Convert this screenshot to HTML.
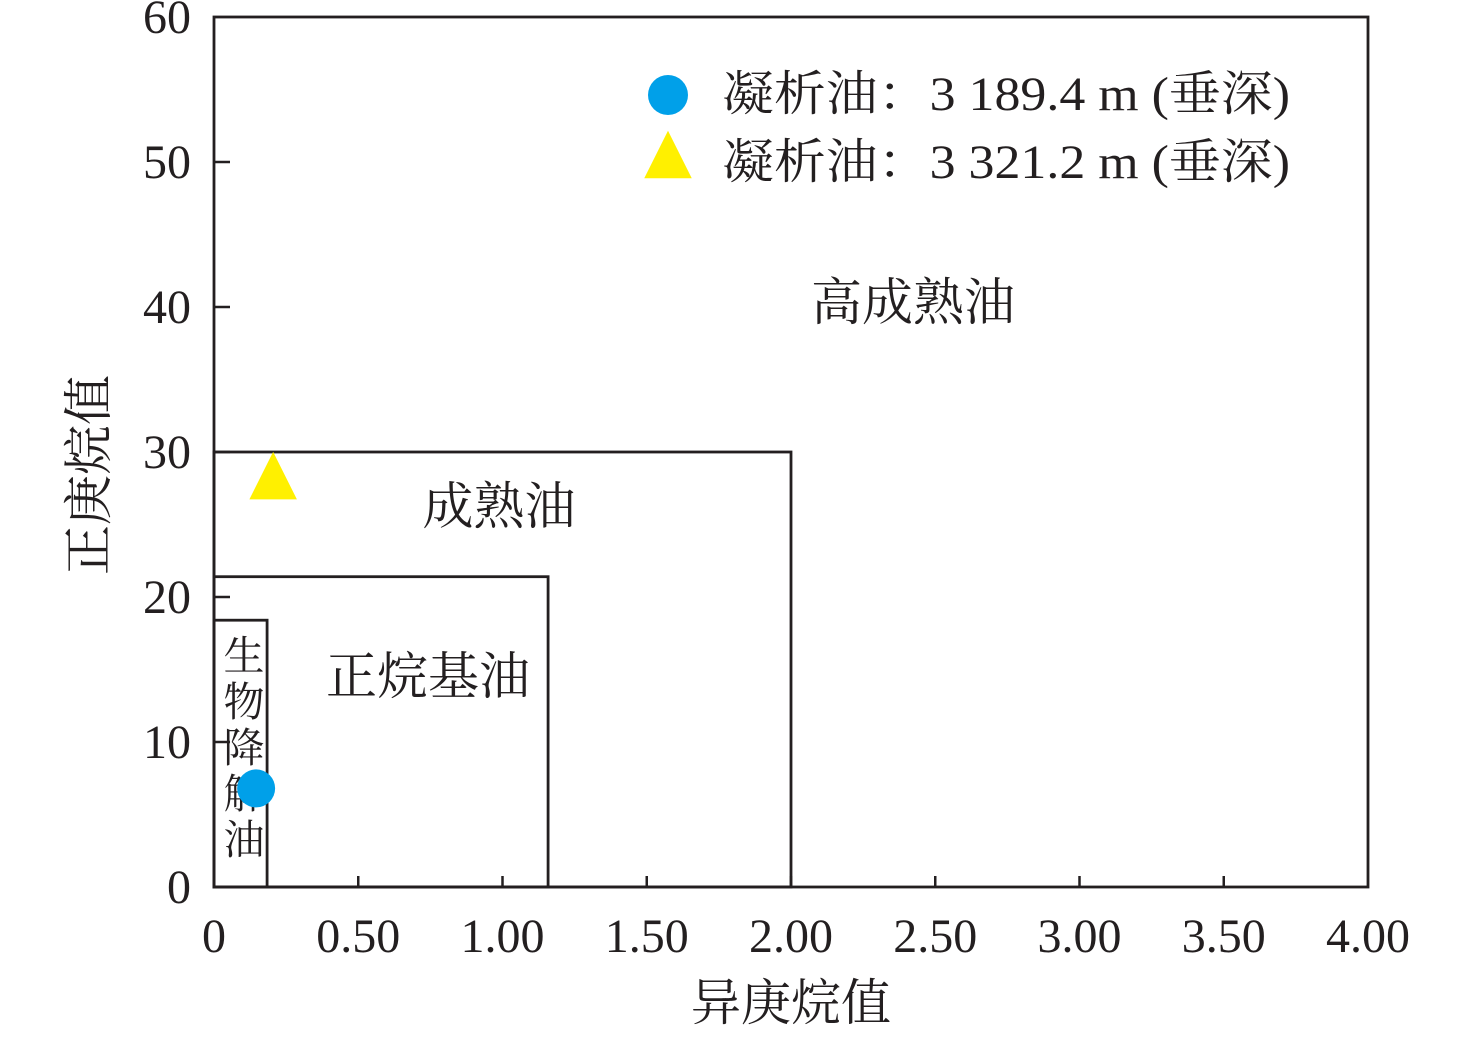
<!DOCTYPE html>
<html><head><meta charset="utf-8"><style>
html,body{margin:0;padding:0;background:#fff;}
svg text{font-family:"Liberation Serif","Noto Serif CJK SC",serif;fill:#231f20;}
</style></head><body>
<svg id="chart" width="1476" height="1036" xmlns="http://www.w3.org/2000/svg">
<g id="g"></g>
</svg>
<script>
const xTicks=[0,0.5,1,1.5,2,2.5,3,3.5,4];
const xTickLabels=["0","0.50","1.00","1.50","2.00","2.50","3.00","3.50","4.00"];
const yTicks=[0,10,20,30,40,50,60];
const yTickLabels=["0","10","20","30","40","50","60"];
const regionNames=["生物降解油","正烷基油","成熟油"];
const regionX=[0.184,1.158,2.0];
const regionY=[18.4,21.4,30];
const seriesNames=["凝析油：3 189.4 m (垂深)","凝析油：3 321.2 m (垂深)"];
const seriesX=[0.146,0.205];
const seriesY=[6.8,28.2];

const X0=214,X1=1368,Y0=887,Y1=17;
const sx=v=>X0+(X1-X0)*v/4;
const sy=v=>Y0-(Y0-Y1)*v/60;
const NS="http://www.w3.org/2000/svg";
const g=document.getElementById('g');
function mk(t,a,txt){const e=document.createElementNS(NS,t);for(const k in a)e.setAttribute(k,a[k]);if(txt!==undefined)e.textContent=txt;g.appendChild(e);return e;}

regionNames.forEach((n,i)=>{
  const r=mk('rect',{x:sx(0),y:sy(regionY[i]),width:sx(regionX[i])-sx(0),height:sy(0)-sy(regionY[i]),fill:'none',stroke:'#231f20','stroke-width':2.8});
  
  
});
const f=mk('rect',{x:X0,y:Y1,width:X1-X0,height:Y0-Y1,fill:'none',stroke:'#231f20','stroke-width':2.8});



xTicks.forEach((v,i)=>{
  if(i>0&&i<xTicks.length-1){const l=mk('line',{x1:sx(v),x2:sx(v),y1:Y0,y2:Y0-11,stroke:'#231f20','stroke-width':2.5});
  
  }
  const t=mk('text',{x:sx(v),y:952,'text-anchor':'middle','font-size':48},xTickLabels[i]);
  
  
});
yTicks.forEach((v,i)=>{
  if(i>0&&i<yTicks.length-1){const l=mk('line',{x1:X0,x2:X0+16,y1:sy(v),y2:sy(v),stroke:'#231f20','stroke-width':2.5});
  
  }
  const t=mk('text',{x:191,y:sy(v)+16,'text-anchor':'end','font-size':48},yTickLabels[i]);
  
  
});
let t=mk('text',{x:791,y:1020,'text-anchor':'middle','font-size':50},'异庚烷值');


t=mk('text',{x:0,y:0,'text-anchor':'middle','font-size':50,transform:'translate(106,475) rotate(-90)'},'正庚烷值');



[["高成熟油",913,320],["成熟油",499,524],["正烷基油",428,694]].forEach(a=>{
  const e=mk('text',{x:a[1],y:a[2],'text-anchor':'middle','font-size':51},a[0]);
  
  
});
"生物降解油".split('').forEach((c,i)=>{
  const e=mk('text',{x:244,y:670+i*46,'text-anchor':'middle','font-size':41},c);
  
  
});

function tri(cx,cy,s){return `${cx},${cy-s*1.05} ${cx-s*0.95},${cy+s*0.85} ${cx+s*0.95},${cy+s*0.85}`;}
let p=mk('circle',{cx:sx(seriesX[0]),cy:sy(seriesY[0]),r:19,fill:'#00a0e9'});


p=mk('polygon',{points:tri(sx(seriesX[1]),sy(seriesY[1]),25),fill:'#fff000'});



p=mk('circle',{cx:668,cy:95,r:20,fill:'#00a0e9'});


p=mk('polygon',{points:tri(668,157,25),fill:'#fff000'});


seriesNames.forEach((n,i)=>{
  const e=mk('text',{x:722,y:110+i*68,'font-size':48,textLength:568,lengthAdjust:'spacingAndGlyphs'},n);
  
  
});
</script>
</body></html>
